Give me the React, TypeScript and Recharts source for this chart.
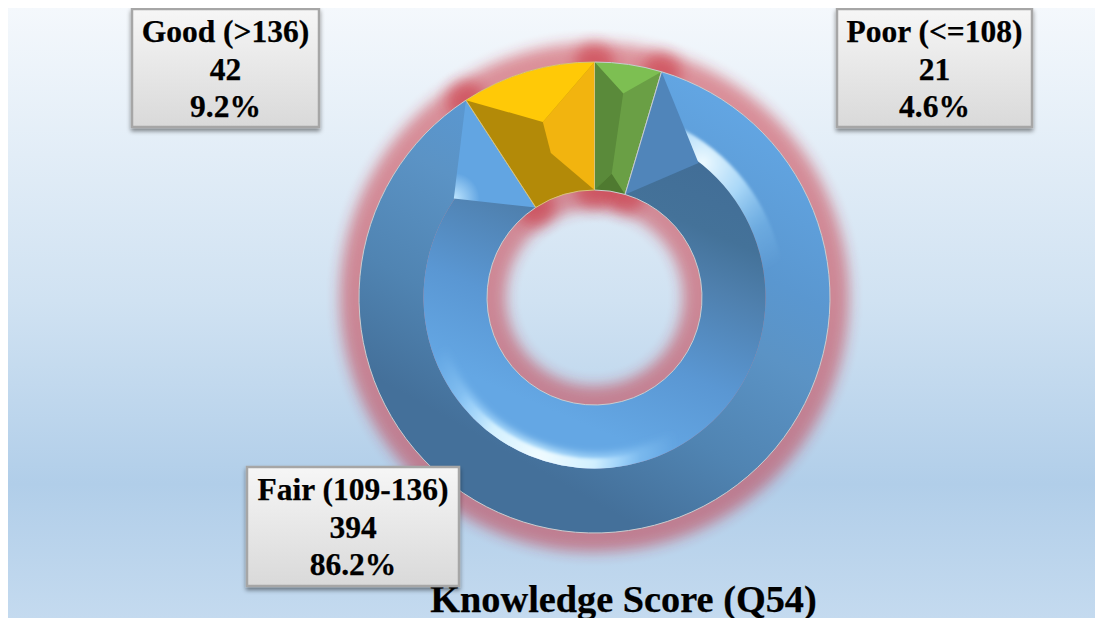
import React from 'react';
import { PieChart, Pie, Sector } from 'recharts';

const categories = ['Poor (<=108)', 'Fair (109-136)', 'Good (>136)'];
const counts = [21, 394, 42];
const percents = ['4.6%', '86.2%', '9.2%'];

const data = categories.map((name, i) => ({ name, value: counts[i] }));

const W = 1095;
const H = 610;
const CX = 586.5;
const CY = 289.5;
const R = 235.5;
const RIDGE = 171;
const r0 = 107.5;

// label boxes, chart coordinates
const boxes: Record<string, { x: number; y: number; w: number; h: number }> = {
  'Poor (<=108)': { x: 829, y: 1, w: 195, h: 118 },
  'Fair (109-136)': { x: 239, y: 459, w: 212, h: 119 },
  'Good (>136)': { x: 124, y: 1, w: 187, h: 118 },
};

type Pt = [number, number];

// clock angle: degrees clockwise from 12 o'clock
const pt = (clock: number, rad: number): Pt => {
  const a = (clock * Math.PI) / 180;
  return [CX + rad * Math.sin(a), CY - rad * Math.cos(a)];
};

const arc = (from: number, to: number, rad: number): Pt[] => {
  const out: Pt[] = [];
  for (let i = 0; i <= 12; i++) out.push(pt(from + ((to - from) * i) / 12, rad));
  return out;
};

const poly = (pts: Pt[], fill: string) => (
  <path d={'M' + pts.map((p) => p.join(',')).join('L') + 'Z'} fill={fill} stroke="none" />
);

function GlowShape(props: any) {
  return (
    <g filter="url(#glow)" opacity={0.47}>
      <Sector
        cx={props.cx}
        cy={props.cy}
        innerRadius={props.innerRadius}
        outerRadius={props.outerRadius}
        startAngle={props.startAngle}
        endAngle={props.endAngle}
        fill="#c8242f"
        stroke="#c8242f"
        strokeWidth={38}
        strokeLinejoin="round"
      />
    </g>
  );
}

function BevelShape(props: any) {
  const { cx, cy, startAngle, endAngle, name } = props;
  const s = 90 - startAngle;
  const e = 90 - endAngle;
  const sector = { cx, cy, startAngle, endAngle };
  const edge = (
    <Sector {...sector} innerRadius={r0} outerRadius={R} fill="none" stroke="#c9cdd0" strokeWidth={1} />
  );

  if (name.startsWith('Poor')) {
    const t = pt(8, 206);
    const b = pt(7.9, 125);
    return (
      <g>
        <Sector {...sector} innerRadius={r0} outerRadius={R} fill="#6a9f45" />
        {poly([...arc(s, e, R), t], '#7dbf52')}
        {poly([pt(s, R), t, b, pt(s, r0)], '#5a8a3a')}
        {poly([...arc(s, e, r0), b], '#4f7a30')}
        {edge}
      </g>
    );
  }
  if (name.startsWith('Good')) {
    const a = pt(343.6, 183);
    const b = pt(343.2, 151);
    return (
      <g>
        <Sector {...sector} innerRadius={r0} outerRadius={R} fill="#b38a08" />
        {poly([pt(e, R), a, b, pt(e, r0)], '#f2b40f')}
        {poly([...arc(s, e, R), a], '#ffc907')}
        <Sector {...sector} innerRadius={r0} outerRadius={R} fill="none" stroke="#d8c47a" strokeWidth={1} />
      </g>
    );
  }
  const right = pt(s + 21.2, 170);
  const left = pt(e - 21.8, 172);
  return (
    <g>
      <Sector {...sector} innerRadius={RIDGE} outerRadius={R} fill="url(#outerBand)" />
      <g filter="url(#soft)">
        <Sector cx={cx} cy={cy} startAngle={90 - 28} endAngle={90 - 84} innerRadius={166} outerRadius={190} fill="url(#glintRight)" />
      </g>
      <Sector {...sector} innerRadius={r0} outerRadius={RIDGE} fill="url(#innerBand)" />
      <g clipPath="url(#ridgeClip)">
        <g filter="url(#softWide)">
          <Sector cx={cx} cy={cy} startAngle={90 - 150} endAngle={90 - 262} innerRadius={156} outerRadius={176} fill="url(#glintWide)" />
        </g>
        <g filter="url(#soft)">
          <Sector cx={cx} cy={cy} startAngle={90 - 160} endAngle={90 - 244} innerRadius={161} outerRadius={176} fill="url(#glintBottom)" />
        </g>
      </g>
      {poly([pt(s, R), right, pt(s, r0)], '#5085ba')}
      {poly([pt(e, R), left, pt(e, r0)], 'url(#leftFacet)')}
      {edge}
    </g>
  );
}

function renderBox(props: any) {
  const name = categories[props.index];
  const b = boxes[name];
  const mid = b.x + b.w / 2;
  const lines = [name, String(counts[props.index]), percents[props.index]];
  return (
    <g key={name}>
      <rect
        x={b.x}
        y={b.y}
        width={b.w}
        height={b.h}
        fill="url(#boxFill)"
        stroke="#a6a6a6"
        strokeWidth={2.5}
        filter="url(#boxShadow)"
      />
      <text
        textAnchor="middle"
        fontFamily="'Liberation Serif'"
        fontWeight="bold"
        fontSize={31.5}
        fill="#000"
        stroke="#000"
        strokeWidth={0.25}
      >
        {lines.map((l, i) => (
          <tspan key={i} x={mid} y={b.y + 33 + i * 37.5}>
            {l}
          </tspan>
        ))}
      </text>
    </g>
  );
}

export default function App() {
  const leftRidge = pt(305, 172);
  return (
    <div
      style={{
        width: W,
        height: H,
        overflow: 'hidden',
        background:
          'linear-gradient(180deg, #f4f8fc 0%, #d0e2f2 48%, #b1cee9 78%, #c4daef 100%)',
      }}
    >
      <PieChart width={W} height={H} margin={{ top: 0, right: 0, bottom: 0, left: 0 }}>
        <defs>
          <filter id="glow" filterUnits="userSpaceOnUse" x="0" y="0" width={W} height={H}>
            <feGaussianBlur stdDeviation="7" />
          </filter>
          <filter id="soft" x="-20%" y="-20%" width="140%" height="140%">
            <feGaussianBlur stdDeviation="1.8" />
          </filter>
          <filter id="softWide" x="-20%" y="-20%" width="140%" height="140%">
            <feGaussianBlur stdDeviation="3.5" />
          </filter>
          <filter id="boxShadow" x="-10%" y="-10%" width="120%" height="125%">
            <feDropShadow dx="0" dy="3" stdDeviation="2" floodColor="#000" floodOpacity="0.45" />
          </filter>
          <clipPath id="ridgeClip">
            <circle cx={CX} cy={CY} r={RIDGE} />
          </clipPath>
          <linearGradient id="boxFill" x1="0" y1="0" x2="0" y2="1">
            <stop offset="0%" stopColor="#f6f6f6" />
            <stop offset="100%" stopColor="#d9d9d9" />
          </linearGradient>
          <linearGradient id="outerBand" gradientUnits="userSpaceOnUse" x1={CX + 150} y1={CY - 180} x2={CX - 60} y2={CY + 190}>
            <stop offset="0%" stopColor="#62a5e2" />
            <stop offset="30%" stopColor="#5a97d0" />
            <stop offset="46%" stopColor="#5b93c5" />
            <stop offset="72%" stopColor="#5084b2" />
            <stop offset="96%" stopColor="#44709a" />
          </linearGradient>
          <linearGradient id="innerBand" gradientUnits="userSpaceOnUse" x1={CX + 60} y1={CY - 150} x2={CX - 50} y2={CY + 110}>
            <stop offset="0%" stopColor="#426e97" />
            <stop offset="20%" stopColor="#447299" />
            <stop offset="38%" stopColor="#4f80ae" />
            <stop offset="70%" stopColor="#5a97d3" />
            <stop offset="100%" stopColor="#64a7e4" />
          </linearGradient>
          <radialGradient id="glintBottom" gradientUnits="userSpaceOnUse" cx={CX - 55} cy={CY + 160} r={100}>
            <stop offset="0%" stopColor="#f0fbff" />
            <stop offset="55%" stopColor="#d8f3ff" stopOpacity={0.9} />
            <stop offset="100%" stopColor="#a8dcff" stopOpacity={0} />
          </radialGradient>
          <radialGradient id="glintWide" gradientUnits="userSpaceOnUse" cx={CX - 55} cy={CY + 145} r={135}>
            <stop offset="0%" stopColor="#c6ebff" stopOpacity={0.9} />
            <stop offset="60%" stopColor="#a4d8ff" stopOpacity={0.65} />
            <stop offset="100%" stopColor="#8fcbf5" stopOpacity={0} />
          </radialGradient>
          <radialGradient id="glintRight" gradientUnits="userSpaceOnUse" cx={CX + 108} cy={CY - 135} r={125}>
            <stop offset="0%" stopColor="#eefaff" />
            <stop offset="35%" stopColor="#bde6ff" stopOpacity={0.8} />
            <stop offset="70%" stopColor="#8fcbf5" stopOpacity={0.3} />
            <stop offset="100%" stopColor="#8fcbf5" stopOpacity={0} />
          </radialGradient>
          <radialGradient id="leftFacet" gradientUnits="userSpaceOnUse" cx={leftRidge[0]} cy={leftRidge[1]} r={26}>
            <stop offset="0%" stopColor="#bfe6ff" />
            <stop offset="100%" stopColor="#62a5e2" />
          </radialGradient>
        </defs>
        <Pie
          data={data}
          dataKey="value"
          nameKey="name"
          cx={CX}
          cy={CY}
          innerRadius={r0}
          outerRadius={R}
          startAngle={90}
          endAngle={-270}
          stroke="none"
          isAnimationActive={false}
          shape={GlowShape}
        />
        <Pie
          data={data}
          dataKey="value"
          nameKey="name"
          cx={CX}
          cy={CY}
          innerRadius={r0}
          outerRadius={R}
          startAngle={90}
          endAngle={-270}
          stroke="none"
          isAnimationActive={false}
          shape={BevelShape}
          label={renderBox}
          labelLine={false}
        />
        <text
          x={615.5}
          y={604}
          textAnchor="middle"
          fontFamily="'Liberation Serif'"
          fontWeight="bold"
          fontSize={38.3}
          fill="#000"
          stroke="#000"
          strokeWidth={0.25}
        >
          Knowledge Score (Q54)
        </text>
      </PieChart>
    </div>
  );
}
